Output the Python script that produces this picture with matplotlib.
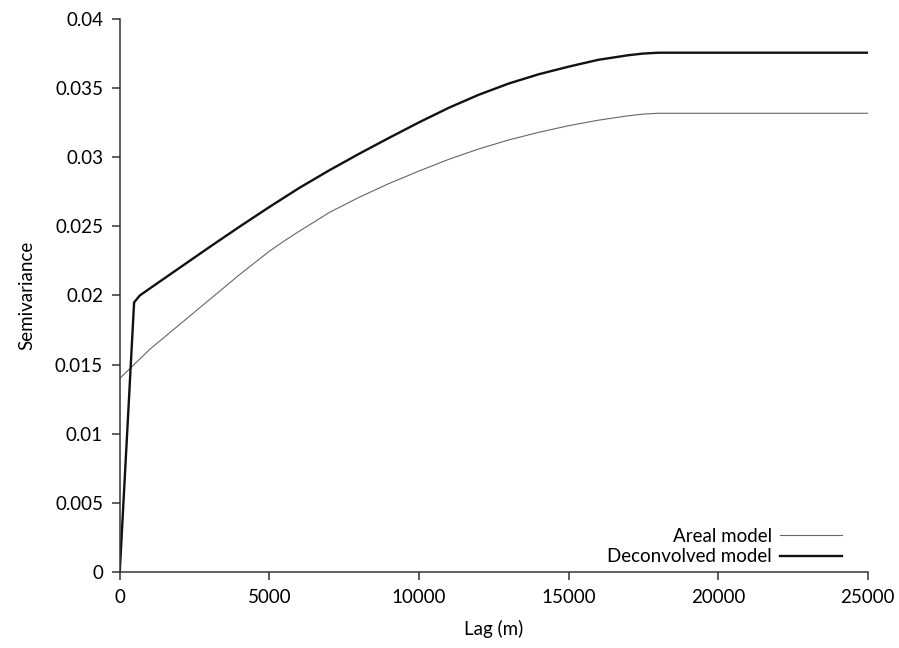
import matplotlib
matplotlib.use('Agg')
import matplotlib.pyplot as plt

# values
lag_deconv = [0, 480, 670, 1000, 2000, 3000, 4000, 5000, 6000, 7000, 8000, 9000,
              10000, 11000, 12000, 13000, 14000, 15000, 16000, 17000, 17500, 18000, 25000]
semi_deconv = [0.0, 0.0195, 0.0200, 0.0205, 0.0220, 0.02350, 0.02497, 0.02640, 0.02778,
               0.02905, 0.03025, 0.03140, 0.03252, 0.03358, 0.03452, 0.03533, 0.03600,
               0.03655, 0.03705, 0.03738, 0.03750, 0.03756, 0.03756]

lag_areal = [0, 1000, 2000, 3000, 4000, 4500, 5000, 5500, 6000, 6500, 7000, 8000, 9000,
             10000, 11000, 12000, 13000, 14000, 15000, 16000, 17000, 17500, 18000, 25000]
semi_areal = [0.0140, 0.0161, 0.0179, 0.0197, 0.0215, 0.02235, 0.0232, 0.02395, 0.02465,
              0.02532, 0.0260, 0.0271, 0.0281, 0.0290, 0.02985, 0.03060, 0.03125, 0.03180,
              0.03228, 0.03268, 0.03300, 0.03312, 0.03318, 0.03318]

x_ticks = [0, 5000, 10000, 15000, 20000, 25000]
y_ticks = [0, 0.005, 0.01, 0.015, 0.02, 0.025, 0.03, 0.035, 0.04]
y_tick_labels = ['0', '0.005', '0.01', '0.015', '0.02', '0.025', '0.03', '0.035', '0.04']

plt.rcParams['font.family'] = ['Lato', 'DejaVu Sans']
plt.rcParams['font.size'] = 13.5

fig = plt.figure(figsize=(8.99, 6.48), dpi=100)
ax = fig.add_axes([0.1332, 0.1173, 0.832, 0.8534])

ax.plot(lag_areal, semi_areal, color='#666666', lw=0.8, label='Areal model')
ax.plot(lag_deconv, semi_deconv, color='#111111', lw=1.7, label='Deconvolved model')

ax.set_xlim(0, 25000)
ax.set_ylim(0, 0.04)
ax.set_xticks(x_ticks)
ax.set_xticklabels([str(t) for t in x_ticks])
ax.set_yticks(y_ticks)
ax.set_yticklabels(y_tick_labels)

for s in ['top', 'right']:
    ax.spines[s].set_visible(False)
for s in ['left', 'bottom']:
    ax.spines[s].set_color('#333333')
    ax.spines[s].set_linewidth(1.1)
ax.tick_params(direction='out', length=6, width=1.1, color='#333333', pad=6)

ax.set_xlabel('Lag (m)', labelpad=10)
ax.set_ylabel('Semivariance', labelpad=14)

ax.legend(loc='lower right', bbox_to_anchor=(0.965, 0.012), frameon=False,
          markerfirst=False, handlelength=3.3, handletextpad=0.4, labelspacing=0.2,
          borderpad=0, borderaxespad=0)

fig.savefig('out.png', dpi=100)
